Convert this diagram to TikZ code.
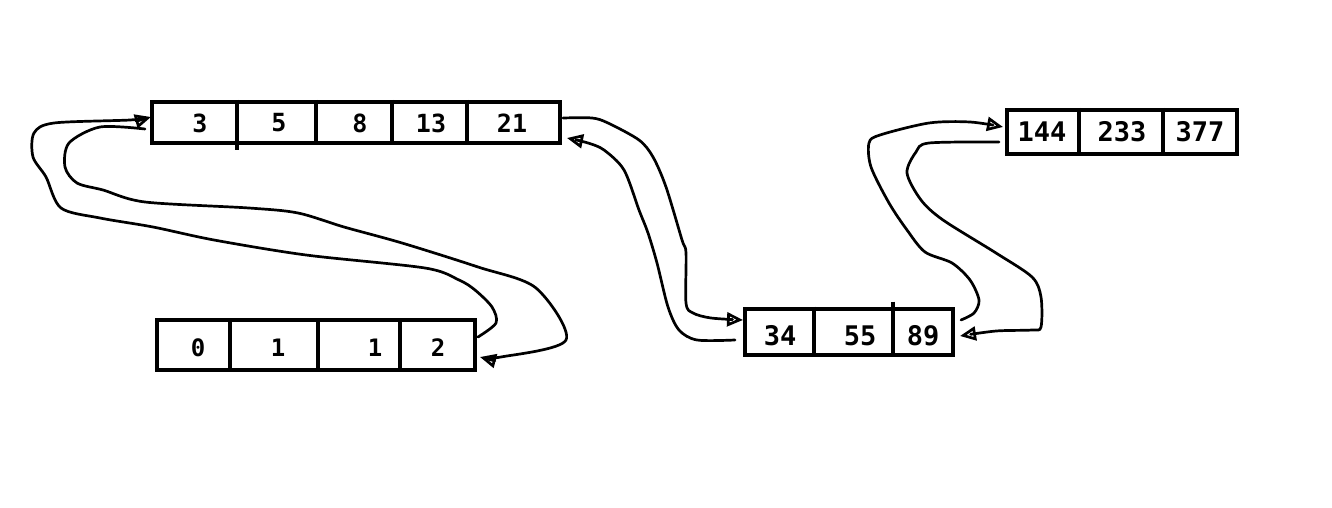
\documentclass[tikz,border=0pt]{standalone}
\usepackage{fontspec}
\newfontfamily\numfont{DejaVu Sans Mono}
\usetikzlibrary{arrows.meta}
\tikzset{
  boxnode/.style={draw, line width=4pt, rectangle, inner sep=0pt},
  divline/.style={line width=4pt},
  numA/.style={font=\numfont\bfseries\fontsize{25}{25}\selectfont, inner sep=0pt},
  numB/.style={font=\numfont\bfseries\fontsize{24}{24}\selectfont, inner sep=0pt},
  numC/.style={font=\numfont\bfseries\fontsize{27}{27}\selectfont, inner sep=0pt},
  link/.style={line width=2.7pt, line join=round, line cap=round,
    -{Triangle[open, length=16pt, width=14pt, line width=2.7pt]}},
}
\begin{document}
\begin{tikzpicture}[x=1pt, y=-1pt]
\useasboundingbox (0,0) rectangle (1332,508);
\fill[white] (0,0) rectangle (1332,508);

% Box A: 3 5 8 13 21
\node[boxnode, minimum width=408pt, minimum height=41pt] (A) at (356,122.5) {};
\foreach \x in {316,392,467} \draw[divline] (A.north -| \x,0) -- (A.south -| \x,0);
\draw[divline] (A.north -| 237,0) -- ([yshift=-5pt]A.south -| 237,0);
\node[numA] (a1) at (200,123) {3};
\node[numA] (a2) at (279,123) {5};
\node[numA] (a3) at (360,123) {8};
\node[numA] (a4) at (431,123) {13};
\node[numA] (a5) at (512,123) {21};

% Box B: 0 1 1 2
\node[boxnode, minimum width=318pt, minimum height=50pt] (B) at (316,345) {};
\foreach \x in {230,318,400} \draw[divline] (B.north -| \x,0) -- (B.south -| \x,0);
\node[numB] (b1) at (198,348) {0};
\node[numB] (b2) at (278,348) {1};
\node[numB] (b3) at (375,348) {1};
\node[numB] (b4) at (438,348) {2};

% Box C: 34 55 89
\node[boxnode, minimum width=208pt, minimum height=46pt] (C) at (849,331.5) {};
\draw[divline] (C.north -| 814,0) -- (C.south -| 814,0);
\draw[divline] ([yshift=5pt]C.north -| 893,0) -- (C.south -| 893,0);
\node[numC] (c1) at (780,336) {34};
\node[numC] (c2) at (860,336) {55};
\node[numC] (c3) at (923,336) {89};

% Box D: 144 233 377
\node[boxnode, minimum width=230pt, minimum height=44pt] (D) at (1122,132) {};
\foreach \x in {1079,1163} \draw[divline] (D.north -| \x,0) -- (D.south -| \x,0);
\node[numC] (d1) at (1042,132) {144};
\node[numC] (d2) at (1122,132) {233};
\node[numC] (d3) at (1200,132) {377};

% connector end points
\coordinate (s1) at (478,337);  \coordinate (e1) at (151,117);
\coordinate (s2) at (145,129);  \coordinate (e2) at (480,357);
\coordinate (s3) at (563,118);  \coordinate (e3) at (743,320);
\coordinate (s4) at (735,340);  \coordinate (e4) at (567,138);
\coordinate (s5) at (961,320);  \coordinate (e5) at (1003,127);
\coordinate (s6) at (999,142);  \coordinate (e6) at (960,336);

% 2 -> 3
\draw[link] plot[smooth, tension=0.5] coordinates {(s1) (496,323) (492,307) (475,290) (459,280) (425,268) (306,255) (214,240) (153,227) (100,218) (61,208) (46,177) (33,157) (34,133) (54,123) (130,120) (e1)};
% 3 -> 2
\draw[link] plot[smooth, tension=0.5] coordinates {(s2) (100,127) (69,143) (65,167) (77,183) (103,190) (145,202) (249,208) (298,213) (344,227) (402,243) (478,267) (536,288) (566,340) (501,357) (e2)};
% 21 -> 34
\draw[link] plot[smooth, tension=0.5] coordinates {(s3) (592,118) (608,123) (639,140) (653,157) (666,187) (682,240) (686,253) (686,303) (693,313) (711,318) (e3)};
% 34 -> 21
\draw[link] plot[smooth, tension=0.5] coordinates {(s4) (697,340) (679,330) (668,307) (657,263) (648,233) (639,210) (624,170) (604,150) (588,143) (e4)};
% 89 -> 144
\draw[link] plot[smooth, tension=0.5] coordinates {(s5) (974,313) (979,300) (970,280) (952,263) (925,252) (907,230) (889,203) (871,167) (869,143) (880,135) (929,123) (970,122) (e5)};
% 144 -> 89
\draw[link] plot[smooth, tension=0.5] coordinates {(s6) (929,143) (916,152) (907,173) (921,200) (943,220) (996,253) (1032,277) (1041,297) (1041,327) (1032,330) (996,331) (e6)};
\end{tikzpicture}
\end{document}
